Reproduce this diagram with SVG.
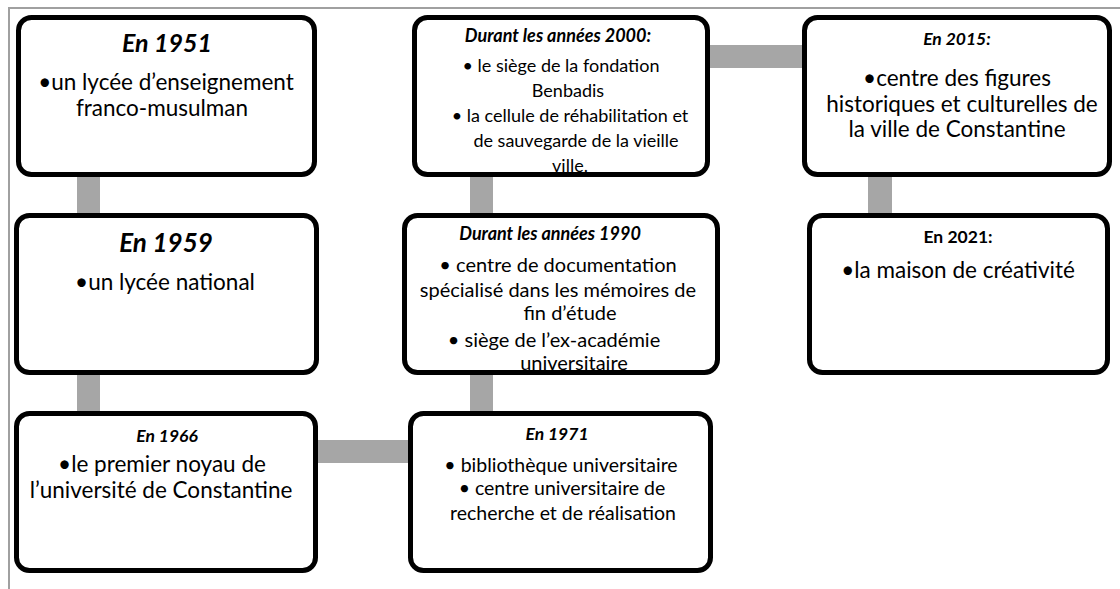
<svg xmlns="http://www.w3.org/2000/svg" width="1120" height="589" viewBox="0 0 1120 589">
  <style>
    .frame { fill: #a0a0a0; }
    .link { fill: #a6a6a6; }
    .box { fill: #ffffff; stroke: #000000; stroke-width: 5; }
    text { font-family: Lato, "Liberation Sans", sans-serif; fill: #000000; text-anchor: middle; }
    .t { font-weight: bold; font-style: italic; }
    .tu { font-weight: bold; }
    .b22 { font-size: 22.5px; }
    .b20 { font-size: 20px; }
    .b19 { font-size: 19.5px; }
    .b18 { font-size: 18px; }
  </style>

  <!-- page frame -->
  <rect class="frame" x="8" y="7" width="1112" height="2"/>
  <rect class="frame" x="8" y="7" width="2" height="582"/>

  <!-- connectors -->
  <g id="connectors">
    <rect class="link" x="77" y="170" width="23" height="50"/>
    <rect class="link" x="77" y="370" width="23" height="48"/>
    <rect class="link" x="315" y="440" width="96" height="23"/>
    <rect class="link" x="470" y="370" width="23" height="48"/>
    <rect class="link" x="470" y="170" width="23" height="50"/>
    <rect class="link" x="705" y="45" width="101" height="23"/>
    <rect class="link" x="868" y="170" width="24" height="50"/>
  </g>

  <g id="n1951">
    <rect class="box" x="18.5" y="17.5" width="296" height="157" rx="13"/>
    <text class="t" x="167" y="52" font-size="25">En 1951</text>
    <text class="b22" x="166" y="90">•un lycée d’enseignement</text>
    <text class="b22" x="162" y="116">franco-musulman</text>
  </g>

  <g id="n1959">
    <rect class="box" x="16.5" y="215.5" width="300" height="157" rx="13"/>
    <text class="t" x="166" y="252" font-size="26">En 1959</text>
    <text class="b22" x="165" y="290">•un lycée national</text>
  </g>

  <g id="n1966">
    <rect class="box" x="16.5" y="413.5" width="299" height="157" rx="13"/>
    <text class="t" x="167" y="442" font-size="17.5">En 1966</text>
    <text class="b22" x="162" y="472">•le premier noyau de</text>
    <text class="b22" x="161" y="498">l’université de Constantine</text>
  </g>

  <g id="n1971">
    <rect class="box" x="410.5" y="413.5" width="300" height="157" rx="13"/>
    <text class="t" x="557" y="440" font-size="17.5">En 1971</text>
    <text class="b19" x="561" y="472">• bibliothèque universitaire</text>
    <text class="b19" x="562" y="495">• centre universitaire de</text>
    <text class="b19" x="563" y="520">recherche et de réalisation</text>
  </g>

  <g id="n1990">
    <rect class="box" x="404.5" y="215.5" width="313" height="157" rx="13"/>
    <text class="t" x="550" y="240" font-size="18">Durant les années 1990</text>
    <text class="b20" x="558" y="272">• centre de documentation</text>
    <text class="b20" x="558" y="297">spécialisé dans les mémoires de</text>
    <text class="b20" x="570" y="320">fin d’étude</text>
    <text class="b20" x="554" y="347">• siège de l’ex-académie</text>
    <text class="b20" x="574" y="370">universitaire</text>
  </g>

  <g id="n2000">
    <rect class="box" x="414.5" y="17.5" width="293" height="157" rx="13"/>
    <text class="t" x="558" y="42" font-size="18">Durant les années 2000:</text>
    <text class="b18" x="561" y="72">• le siège de la fondation</text>
    <text class="b18" x="568" y="97">Benbadis</text>
    <text class="b18" x="570" y="122">• la cellule de réhabilitation et</text>
    <text class="b18" x="576" y="147">de sauvegarde de la vieille</text>
    <text class="b18" x="570" y="172">ville.</text>
  </g>

  <g id="n2015">
    <rect class="box" x="804.5" y="17.5" width="305" height="157" rx="13"/>
    <text class="t" x="957" y="45" font-size="17.5">En 2015:</text>
    <text class="b22" x="957" y="86">•centre des figures</text>
    <text class="b22" x="962" y="112">historiques et culturelles de</text>
    <text class="b22" x="957" y="137">la ville de Constantine</text>
  </g>

  <g id="n2021">
    <rect class="box" x="809.5" y="215.5" width="298" height="157" rx="13"/>
    <text class="tu" x="958" y="243" font-size="17.5">En 2021:</text>
    <text class="b22" x="958" y="278">•la maison de créativité</text>
  </g>
</svg>
